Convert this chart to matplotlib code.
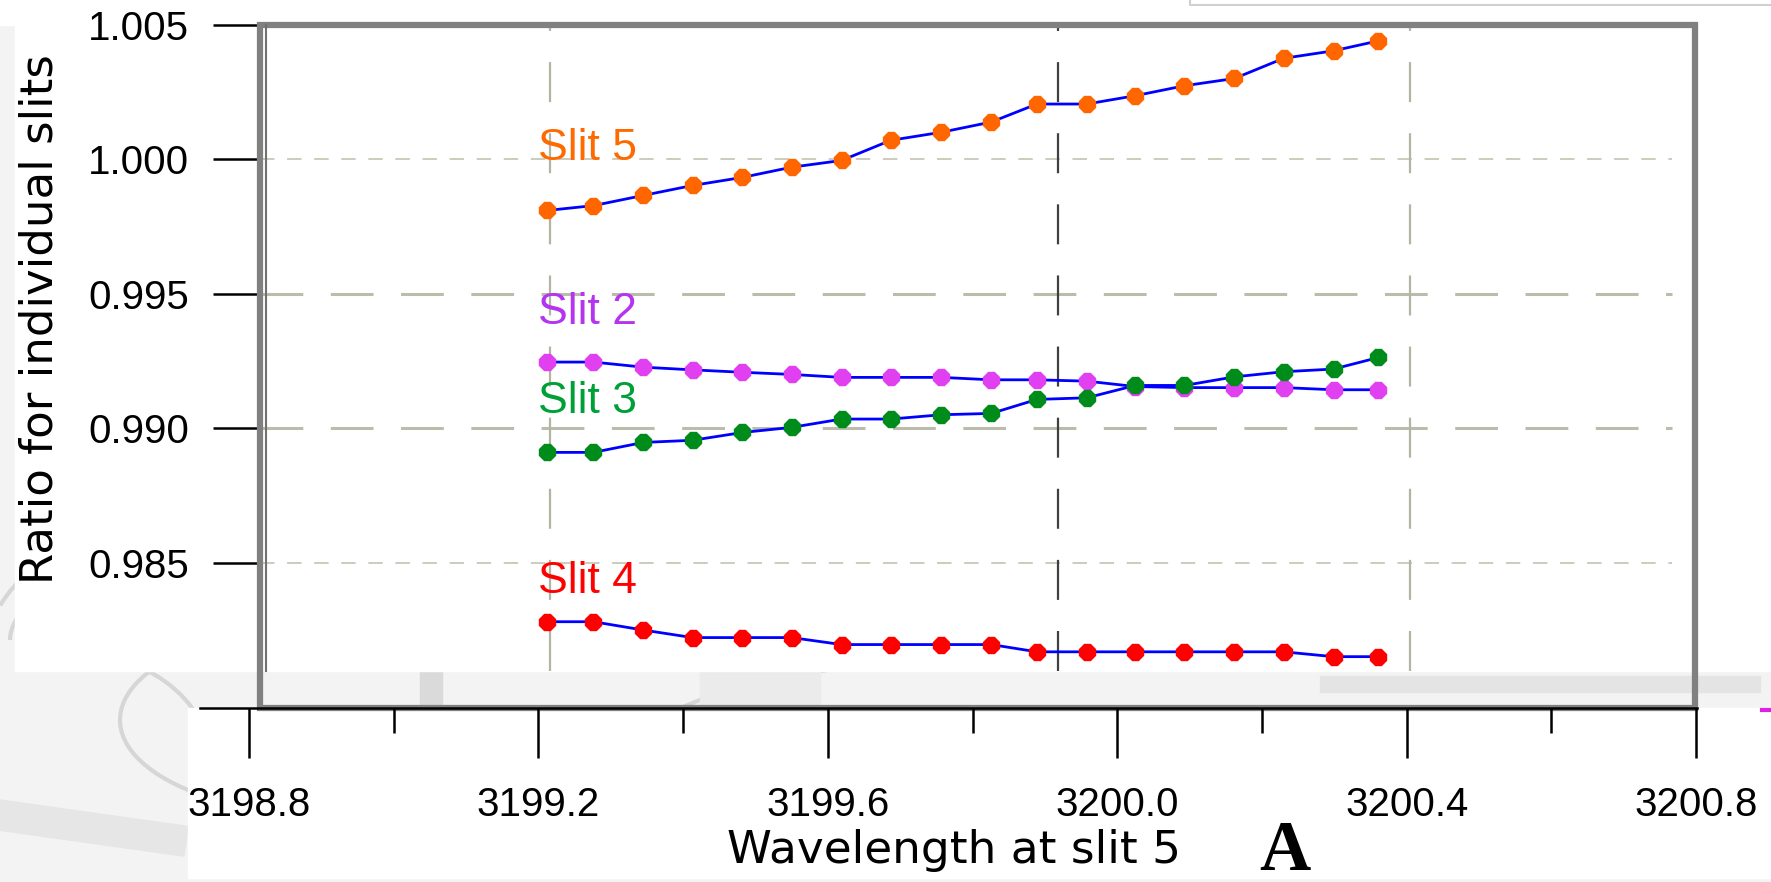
import matplotlib
matplotlib.use("Agg")
import matplotlib.pyplot as plt
from matplotlib.patches import Rectangle, Arc

# wavelength at slit 5 for each scan step
wavelength = [3199.212, 3199.276, 3199.345, 3199.413, 3199.482, 3199.550,
              3199.619, 3199.687, 3199.757, 3199.826, 3199.889, 3199.958,
              3200.025, 3200.093, 3200.162, 3200.230, 3200.299, 3200.361]

# ratio for the individual slits
slit5 = [0.99810, 0.99828, 0.99866, 0.99903, 0.99933, 0.99971, 0.99996, 1.00071,
         1.00101, 1.00139, 1.00206, 1.00206, 1.00237, 1.00274, 1.00301, 1.00376,
         1.00404, 1.00441]
slit2 = [0.99246, 0.99246, 0.99227, 0.99217, 0.99208, 0.99200, 0.99189, 0.99189,
         0.99189, 0.99180, 0.99180, 0.99175, 0.99155, 0.99151, 0.99151, 0.99151,
         0.99143, 0.99143]
slit3 = [0.98910, 0.98910, 0.98947, 0.98955, 0.98984, 0.99003, 0.99034, 0.99034,
         0.99050, 0.99055, 0.99107, 0.99113, 0.99159, 0.99159, 0.99191, 0.99210,
         0.99220, 0.99263]
slit4 = [0.98280, 0.98280, 0.98249, 0.98221, 0.98221, 0.98221, 0.98195, 0.98195,
         0.98195, 0.98195, 0.98168, 0.98168, 0.98168, 0.98168, 0.98168, 0.98168,
         0.98150, 0.98150]

series = [("Slit 5", slit5, "#ff6600", "#ff6a00", 1.00039),
          ("Slit 2", slit2, "#e040f0", "#b434f0", 0.99429),
          ("Slit 3", slit3, "#008c1a", "#00a038", 0.99098),
          ("Slit 4", slit4, "#ff0000", "#ff0000", 0.98428)]

y_ticks = [0.985, 0.990, 0.995, 1.000, 1.005]
x_major = [3198.8, 3199.2, 3199.6, 3200.0, 3200.4, 3200.8]
x_minor = [3199.0, 3199.4, 3199.8, 3200.2, 3200.6]
x_grid = [3199.216, 3199.918, 3200.405]

W, H = 1771, 882
fig = plt.figure(figsize=(W / 100, H / 100), dpi=100)


def frac(x0, y0, x1, y1):
    # pixel box (top-left origin) -> figure fraction [l, b, w, h]
    return [x0 / W, 1 - y1 / H, (x1 - x0) / W, (y1 - y0) / H]


# faded photo behind the chart
bg = fig.add_axes([0, 0, 1, 1], zorder=0)
bg.set_xlim(0, W)
bg.set_ylim(H, 0)
bg.axis("off")
bg.add_patch(Rectangle((0, 0), W, H, color="#f3f3f3"))
for cx, cy, w, h, t1, t2 in [(150, 660, 330, 260, 200, 360), (330, 720, 420, 190, 0, 200),
                             (60, 760, 300, 220, 270, 360), (200, 640, 380, 160, 180, 330),
                             (980, 760, 700, 200, 180, 300)]:
    bg.add_patch(Arc((cx, cy), w, h, theta1=t1, theta2=t2, color="#d6d6d6", lw=3))
bg.add_patch(Rectangle((0, 800), 190, 30, color="#e6e6e6", angle=8))
bg.add_patch(Rectangle((420, 672), 22, 34, color="#dadada"))
bg.add_patch(Rectangle((700, 672), 120, 34, color="#ebebeb"))
bg.add_patch(Rectangle((1320, 676), 440, 16, color="#e4e4e4"))
# white panels
for x0, y0, x1, y1 in [(15, 0, 260, 671), (0, 0, W, 25), (260, 25, 1695, 671),
                       (1695, 0, W, 671), (188, 708, W, 878)]:
    bg.add_patch(Rectangle((x0, y0), x1 - x0, y1 - y0, color="white"))
bg.plot([1190, 1190, W], [0, 5, 5], color="#d0d0d0", lw=1.5)
bg.plot([1762, 1771], [710, 710], color="#e020e0", lw=3)

# plot frame
ax = fig.add_axes(frac(260, 25, 1695, 708), zorder=2)
ax.set_facecolor("none")
px_per_x = 723.5
ax.set_xlim(3198.8 + (260 - 249) / px_per_x, 3198.8 + (1695 - 249) / px_per_x)
ax.set_ylim(0.97959, 1.005)
for s in ax.spines.values():
    s.set_visible(False)
ax.add_patch(Rectangle((0, 0), 1, 1, transform=ax.transAxes, fill=False,
                       ec="#808080", lw=4.5, clip_on=False, zorder=5))
ax.plot([0.0045, 0.0045], [0.054, 1], transform=ax.transAxes, color="#707070", lw=1.5,
        clip_on=False, zorder=5)

y_cut = 0.98097
for v in [0.985, 1.000]:
    ax.hlines(v, 0, 0.984, transform=ax.get_yaxis_transform(), colors="#c8c8b8",
              lw=1.3, linestyles=(0, (8, 7)), zorder=1)
for v in [0.990, 0.995]:
    ax.hlines(v, 0, 0.984, transform=ax.get_yaxis_transform(), colors="#bcbcac",
              lw=2.2, linestyles=(0, (14, 9)), zorder=1)
for xv, c in zip(x_grid, ["#b4b4a4", "#404040", "#b4b4a4"]):
    ax.vlines(xv, y_cut, 1.005, colors=c, lw=1.6, linestyles=(0, (18, 14)), zorder=1)

for name, vals, mc, tc, ty in series:
    ax.plot(wavelength, vals, color="#0000ff", lw=2, zorder=3)
    ax.plot(wavelength, vals, ls="none", marker="8", ms=12.5, mfc=mc, mec=mc, zorder=4)
    ax.text(3199.1994, ty, name, color=tc, fontsize=32, family="Liberation Sans",
            ha="left", va="center", zorder=4)

ax.set_yticks(y_ticks)
ax.set_yticklabels([f"{v:.3f}" for v in y_ticks], family="Liberation Sans", fontsize=29)
ax.tick_params(axis="y", direction="out", length=34, width=1.8, pad=17, color="black")
ax.set_xticks([])
ax.set_ylabel("Ratio for individual slits", family="DejaVu Sans", fontsize=32.5)
ax.yaxis.label.set_va("center")
ax.yaxis.set_label_coords((40 - 260) / 1435, 0.5 + (366.5 - 319) / 683)

# x axis strip
axx = fig.add_axes(frac(200, 707, 1697, 708), zorder=3)
axx.set_facecolor("none")
axx.set_xlim(3198.8 + (200 - 249) / px_per_x, 3198.8 + (1697 - 249) / px_per_x)
for k in ["left", "right", "top"]:
    axx.spines[k].set_visible(False)
axx.spines["bottom"].set_linewidth(1.8)
axx.set_yticks([])
axx.set_xticks(x_major)
axx.set_xticks(x_minor, minor=True)
axx.set_xticklabels([f"{v:.1f}" for v in x_major], family="Liberation Sans", fontsize=29)
axx.tick_params(axis="x", which="major", direction="out", length=36, width=1.8, pad=20)
axx.tick_params(axis="x", which="minor", direction="out", length=18, width=1.8)

fig.text(954 / W, 1 - 850 / H, "Wavelength at slit 5", family="DejaVu Sans",
         fontsize=32.7, ha="center", va="center")
fig.text(1285 / W, 1 - 853 / H, "A", family="Liberation Serif", weight="bold",
         fontsize=51, ha="center", va="center")

fig.savefig("out.png", dpi=100)
